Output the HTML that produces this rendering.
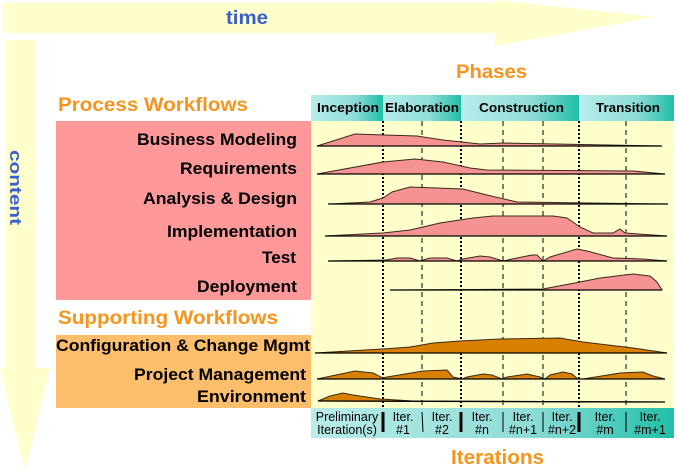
<!DOCTYPE html>
<html><head><meta charset="utf-8"><style>
html,body{margin:0;padding:0;background:#fff;}
svg{display:block;font-family:"Liberation Sans",Arial,sans-serif;}
</style></head><body>
<svg width="678" height="472" viewBox="0 0 678 472">
<defs>
<linearGradient id="ph" x1="0" y1="0" x2="1" y2="0">
<stop offset="0" stop-color="#b8ecea"/><stop offset="0.6" stop-color="#8fdcd6"/><stop offset="1" stop-color="#1fbfa9"/>
</linearGradient>
</defs>
<polygon points="3,3 495,3 495,0 655,17 495,46 495,33 3,33" fill="#ffffcc"/>
<polygon points="6,40 36,40 36,368 50,368 25,470 0,368 6,368" fill="#ffffcc"/>
<text x="226" y="24" font-size="19" font-weight="bold" fill="#3a5fc8" textLength="42" lengthAdjust="spacingAndGlyphs">time</text>
<text transform="translate(10,150) rotate(90)" font-size="17" font-weight="bold" fill="#3a5fc8" textLength="75" lengthAdjust="spacingAndGlyphs">content</text>

<text x="456" y="78" font-size="19" font-weight="bold" fill="#f7941d" textLength="71" lengthAdjust="spacingAndGlyphs">Phases</text>
<text x="58" y="111" font-size="19" font-weight="bold" fill="#f7941d" textLength="190" lengthAdjust="spacingAndGlyphs">Process Workflows</text>
<text x="58" y="324" font-size="19" font-weight="bold" fill="#f7941d" textLength="220" lengthAdjust="spacingAndGlyphs">Supporting Workflows</text>

<rect x="56" y="121" width="255" height="179" fill="#ff9999"/>
<rect x="56" y="335" width="255" height="73" fill="#fcbe6a"/>
<rect x="311" y="121" width="363" height="287" fill="#ffffcc"/>

<rect x="311" y="95" width="72" height="26" fill="url(#ph)"/>
<rect x="383" y="95" width="78" height="26" fill="url(#ph)"/>
<rect x="461" y="95" width="118" height="26" fill="url(#ph)"/>
<rect x="579" y="95" width="95" height="26" fill="url(#ph)"/>
<g font-size="13" font-weight="bold" fill="#000" lengthAdjust="spacingAndGlyphs">
<text x="317" y="112" textLength="62" lengthAdjust="spacingAndGlyphs">Inception</text>
<text x="385" y="112" textLength="74" lengthAdjust="spacingAndGlyphs">Elaboration</text>
<text x="479" y="112" textLength="85" lengthAdjust="spacingAndGlyphs">Construction</text>
<text x="596" y="112" textLength="64" lengthAdjust="spacingAndGlyphs">Transition</text>
</g>

<g font-size="17" font-weight="bold" fill="#000">
<text x="137" y="145" textLength="160" lengthAdjust="spacingAndGlyphs">Business Modeling</text>
<text x="180" y="174" textLength="117" lengthAdjust="spacingAndGlyphs">Requirements</text>
<text x="143" y="204" textLength="154" lengthAdjust="spacingAndGlyphs">Analysis &amp; Design</text>
<text x="167" y="237" textLength="130" lengthAdjust="spacingAndGlyphs">Implementation</text>
<text x="262" y="263" textLength="34" lengthAdjust="spacingAndGlyphs">Test</text>
<text x="197" y="292" textLength="100" lengthAdjust="spacingAndGlyphs">Deployment</text>
<text x="56" y="351" textLength="254" lengthAdjust="spacingAndGlyphs">Configuration &amp; Change Mgmt</text>
<text x="134" y="380" textLength="172" lengthAdjust="spacingAndGlyphs">Project Management</text>
<text x="197" y="402" textLength="109" lengthAdjust="spacingAndGlyphs">Environment</text>
</g>

<g stroke="#000" stroke-width="2" stroke-dasharray="2,2">
<line x1="383" y1="121" x2="383" y2="408"/><line x1="461" y1="121" x2="461" y2="408"/><line x1="579" y1="121" x2="579" y2="408"/>
</g>
<g stroke="#000" stroke-width="1" stroke-dasharray="5,4">
<line x1="422" y1="121" x2="422" y2="408"/><line x1="503" y1="121" x2="503" y2="408"/><line x1="543" y1="121" x2="543" y2="408"/><line x1="626" y1="121" x2="626" y2="408"/>
</g>

<g fill="#f59393" stroke="#3a2a1a" stroke-width="1">
<polygon points="317,146 355,134 417,136 443,140 480,144 503,143 662,146"/>
<polygon points="317,174 383,162 415,159 443,162 470,168 487,170 633,171 665,174"/>
<polygon points="330,204 370,202 383,198 392,192 410,187 463,189 487,195 517,202 667,204"/>
<polygon points="325,236 383,233 410,230 440,223 473,218 493,216 553,216 567,218 580,227 593,233 613,233 620,229 625,233 667,236"/>
<polygon points="328,261 386,260 397,258 410,258 420,261 430,258 447,258 457,261 463,259 480,256 490,257 503,261 517,258 532,255 537,255 543,261 550,257 577,249 587,251 613,258 643,259 667,261"/>
<polygon points="390,290 543,289 580,282 600,278 633,274 650,276 657,282 662,290"/>
</g>
<g fill="#d98000" stroke="#3a2a1a" stroke-width="1">
<polygon points="315,353 383,349 410,347 433,343 460,341 500,339 560,338 583,342 633,348 667,353"/>
<polygon points="317,379 355,371 373,373 383,378 387,377 423,371 447,370 453,377 462,379 467,377 483,374 492,375 502,379 507,377 527,374 540,377 545,379 550,375 563,372 572,374 578,379 583,379 620,373 643,372 653,376 665,379"/>
<polygon points="318,401 330,396 343,393 353,395 380,399 413,401 665,402"/>
</g>
<g stroke="#000" stroke-width="1.3">
<line x1="317" y1="146" x2="662" y2="146"/><line x1="317" y1="174" x2="665" y2="174"/>
<line x1="328" y1="204" x2="668" y2="204"/><line x1="325" y1="236" x2="667" y2="236"/>
<line x1="328" y1="261" x2="667" y2="261"/><line x1="390" y1="290" x2="662" y2="290"/>
<line x1="315" y1="353" x2="667" y2="353"/><line x1="317" y1="379" x2="665" y2="379"/>
<line x1="318" y1="401" x2="665" y2="402"/>
</g>

<rect x="311" y="408" width="363" height="30" fill="url(#ph)"/>
<g stroke="#000">
<line x1="383" y1="412" x2="383" y2="432" stroke-width="3"/>
<line x1="461" y1="412" x2="461" y2="432" stroke-width="3"/>
<line x1="579" y1="412" x2="579" y2="432" stroke-width="3"/>
<line x1="422" y1="412" x2="423" y2="432" stroke-width="1"/>
<line x1="503" y1="412" x2="503" y2="432" stroke-width="1"/>
<line x1="543" y1="412" x2="543" y2="432" stroke-width="1"/>
<line x1="626" y1="412" x2="626" y2="432" stroke-width="1"/>
</g>
<g font-size="12.5" fill="#000" text-anchor="middle">
<text x="347" y="421">Preliminary</text><text x="347" y="434">Iteration(s)</text>
<text x="403" y="421">Iter.</text><text x="403" y="434">#1</text>
<text x="442" y="421">Iter.</text><text x="442" y="434">#2</text>
<text x="482" y="421">Iter.</text><text x="482" y="434">#n</text>
<text x="523" y="421">Iter.</text><text x="523" y="434">#n+1</text>
<text x="562" y="421">Iter.</text><text x="562" y="434">#n+2</text>
<text x="605" y="421">Iter.</text><text x="605" y="434">#m</text>
<text x="650" y="421">Iter.</text><text x="650" y="434">#m+1</text>
</g>
<text x="451" y="464" font-size="20" font-weight="bold" fill="#f7941d" textLength="93" lengthAdjust="spacingAndGlyphs">Iterations</text>
</svg>
</body></html>
